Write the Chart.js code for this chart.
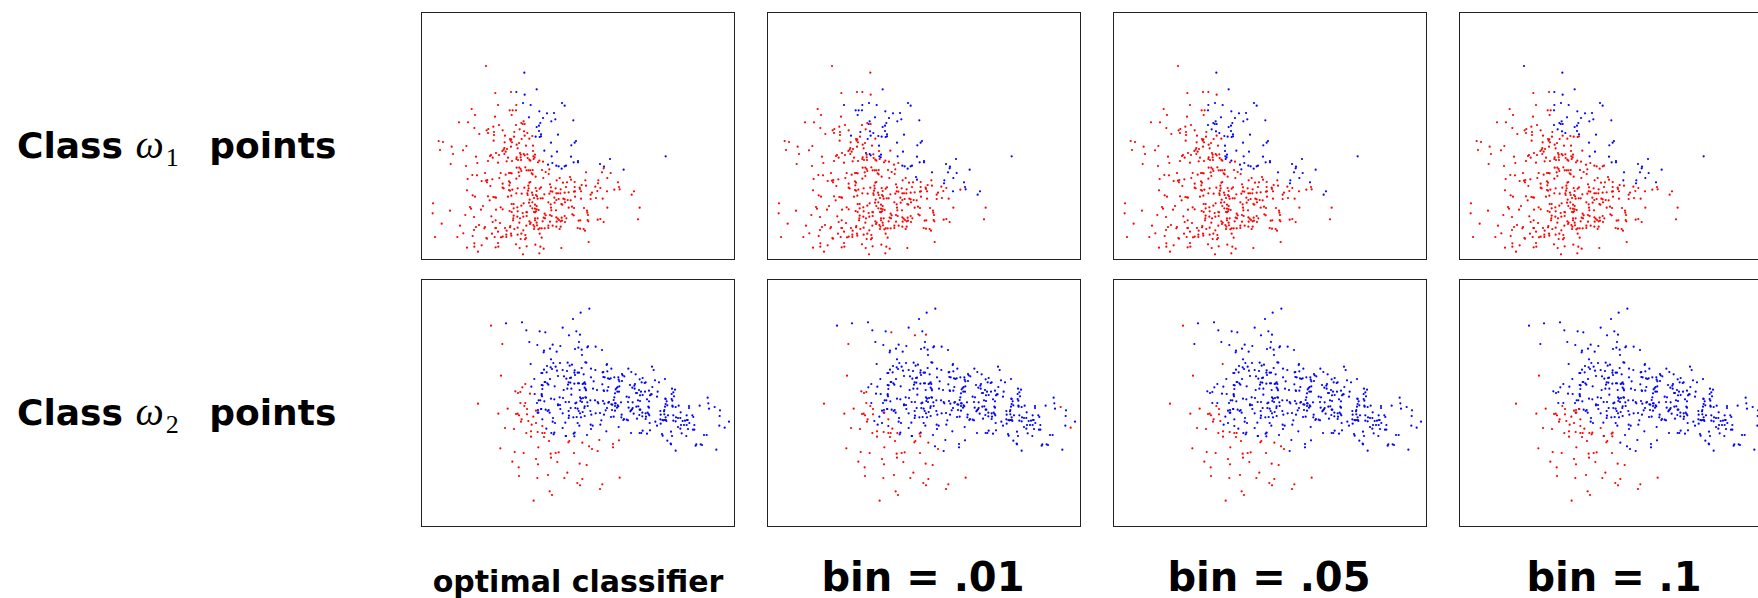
<!DOCTYPE html>
<html>
<head>
<meta charset="utf-8">
<script src="https://cdn.jsdelivr.net/npm/chart.js@4"></script>
<style>
  html, body { margin: 0; background: #fff; overflow: hidden; width: 1758px; height: 598px; }
  canvas { position: absolute; }
  .label { position: absolute; font-family: "DejaVu Sans", sans-serif; font-weight: 700; color: #000; white-space: nowrap; line-height: 1; }
  .row { font-size: 36px; left: 17px; }
  .row i { font-family: "Liberation Serif", serif; font-weight: 400; font-size: 40px; margin: 0 3px 0 0; }
  .row sub { font-family: "Liberation Serif", serif; font-weight: 400; font-size: 26px; line-height: 0; margin-left: -1px; margin-right: 18px; }
  .col { transform: translateX(-50%); }
</style>
</head>
<body>
<script>
const columns = ["optimal classifier", "bin = .01", "bin = .05", "bin = .1"];

// always red in the top row
const topRed = [[256,279],[303,276],[185,327],[195,345],[255,350],[147,367],[174,367],[267,375],[250,380],[193,384],[235,387],[230,391],[278,391],[252,396],[234,399],[252,405],[208,402],[312,410],[358,416],[300,417],[304,418],[302,422],[251,422],[284,427],[306,427],[327,429],[86,423],[99,426],[125,440],[169,438],[348,437],[320,434],[323,445],[303,440],[283,444],[281,449],[291,447],[277,453],[287,455],[90,450],[159,451],[129,462],[258,459],[283,462],[243,465],[240,468],[267,465],[332,464],[352,463],[198,470],[248,473],[294,473],[320,472],[319,477],[324,480],[332,472],[333,480],[353,474],[358,479],[361,482],[234,483],[290,484],[264,488],[306,483],[202,489],[122,492],[168,498],[399,485],[384,487],[320,503],[328,503],[332,507],[346,502],[334,513],[350,511],[356,511],[361,511],[368,510],[396,510],[407,516],[225,519],[272,519],[297,519],[301,519],[287,524],[305,520],[326,517],[416,522],[187,525],[201,526],[365,520],[368,523],[328,528],[377,530],[400,534],[449,534],[173,537],[247,538],[268,534],[232,540],[228,542],[215,543],[231,547],[297,544],[300,548],[319,536],[361,546],[358,548],[440,541],[459,548],[471,547],[494,546],[278,551],[355,557],[241,558],[298,556],[278,563],[281,565],[297,570],[300,572],[307,569],[323,565],[343,563],[356,565],[377,564],[389,566],[393,562],[420,553],[423,562],[437,565],[452,568],[468,561],[494,561],[509,563],[515,555],[510,567],[528,557],[556,560],[571,564],[613,569],[562,573],[171,571],[354,572],[380,573],[352,580],[319,580],[366,578],[422,574],[427,575],[439,580],[444,580],[451,580],[464,578],[476,577],[492,575],[495,574],[513,574],[546,578],[542,584],[578,596],[558,594],[188,586],[195,590],[234,589],[250,591],[255,592],[258,593],[239,601],[304,587],[294,590],[335,581],[353,585],[368,585],[378,585],[381,589],[403,583],[418,581],[392,595],[398,595],[383,596],[372,594],[433,593],[439,600],[446,597],[460,596],[464,598],[473,600],[482,601],[495,590],[513,596],[542,597],[359,599],[357,608],[367,607],[305,612],[311,612],[341,610],[375,614],[380,618],[415,607],[422,613],[434,608],[454,612],[457,614],[465,607],[476,623],[486,620],[492,624],[522,624],[592,623],[689,623],[69,610],[180,621],[183,626],[219,618],[213,629],[258,629],[272,622],[278,628],[311,625],[322,622],[334,617],[361,618],[367,625],[375,626],[380,628],[386,630],[423,623],[424,631],[438,631],[531,632],[120,632],[68,640],[299,633],[305,636],[323,634],[349,636],[338,639],[351,637],[372,636],[378,634],[375,637],[404,641],[407,646],[405,655],[420,645],[464,648],[487,643],[491,646],[532,638],[534,645],[166,645],[244,649],[192,651],[311,647],[310,655],[322,650],[330,655],[340,650],[350,648],[375,655],[383,655],[401,653],[398,664],[425,648],[439,652],[443,656],[447,660],[455,653],[456,662],[469,655],[506,662],[511,661],[533,660],[535,664],[563,659],[571,657],[581,666],[684,658],[257,661],[248,666],[270,669],[309,661],[328,668],[358,664],[362,668],[360,672],[375,661],[380,668],[420,665],[440,665],[452,664],[465,666],[95,671],[150,677],[207,675],[225,681],[223,685],[198,681],[192,690],[256,684],[258,684],[285,684],[301,678],[300,682],[323,683],[313,687],[340,691],[349,677],[370,675],[373,680],[381,676],[415,677],[428,677],[415,684],[395,685],[404,685],[389,685],[385,688],[372,687],[439,680],[452,680],[449,687],[503,684],[510,686],[521,687],[525,692],[290,692],[273,712],[264,695],[246,701],[254,711],[229,714],[231,716],[188,708],[160,700],[142,711],[75,711],[303,701],[304,707],[289,704],[289,711],[278,710],[323,704],[334,701],[346,705],[348,714],[345,718],[332,717],[389,701],[395,713],[536,726],[193,730],[193,740],[171,743],[215,736],[257,742],[265,740],[264,729],[318,733],[329,744],[350,739],[376,734],[391,740],[401,746],[454,744],[204,755],[339,763],[388,760]];

// always blue in the top row
const topBlue = [[380,268],[339,309],[362,315],[456,309],[464,317],[388,334],[411,340],[432,339],[399,354],[357,352],[436,358],[424,364],[490,361],[391,369],[387,377],[380,381],[387,393],[444,404],[393,403],[423,428],[484,436],[494,428],[498,423],[441,455],[425,469],[483,470],[504,483],[504,487],[491,487],[570,492],[582,500],[600,477],[641,509],[767,469]];

// points whose class changes: x, y, then blue (1) or red (0) for each column
const topSwing = [[228,198,0,0,0,1],[343,218,1,0,1,1],[319,276,1,0,0,1],[344,284,1,0,0,1],[264,315,0,1,0,0],[319,315,0,1,1,1],[299,331,0,1,0,0],[308,331,0,1,0,0],[318,331,0,1,1,1],[305,345,0,1,0,0],[341,364,0,1,1,1],[334,369,0,0,1,1],[338,372,0,1,1,1],[344,372,0,0,1,1],[318,375,0,0,1,1],[329,388,0,0,1,1],[342,394,0,1,1,1],[352,399,0,1,1,1],[313,396,0,1,0,0],[285,407,0,1,0,0],[335,417,0,1,0,0],[344,407,0,1,0,0],[367,408,0,1,1,0],[377,410,1,1,1,0],[389,411,1,1,1,0],[393,409,1,1,1,0],[369,437,0,1,1,0],[369,453,0,0,1,0],[330,459,0,1,0,0],[341,462,0,1,0,0],[344,466,0,1,0,0],[375,464,0,1,1,0],[370,469,0,1,1,0],[374,472,0,1,1,0],[371,477,0,0,1,0],[388,482,0,0,1,0],[403,452,1,0,1,0],[427,489,1,0,1,0],[414,494,1,0,1,0],[439,497,1,1,1,0],[446,499,1,1,1,0],[455,506,1,1,1,0],[464,499,1,1,1,0],[468,497,1,1,1,0],[418,508,0,0,1,0],[528,517,0,1,1,1],[576,517,0,1,1,1],[602,519,0,1,1,1],[592,534,0,1,1,1],[565,541,0,1,1,1],[564,550,0,1,1,1],[526,541,0,0,0,1],[480,531,0,1,0,0],[483,539,0,1,0,0],[624,547,0,1,1,1],[591,574,0,1,0,0],[627,561,0,1,0,0],[629,568,0,1,0,0],[672,574,0,1,1,0],[665,584,0,1,1,0],[581,505,0,1,1,1]];

// always red in the bottom row
const bottomRed = [[273,317],[204,401],[343,408],[351,417],[293,416],[265,431],[318,432],[323,431],[327,436],[351,433],[335,448],[333,455],[285,474],[312,477],[349,489],[363,484],[383,486],[397,489],[404,489],[363,500],[402,501],[417,513],[478,513],[475,517],[271,535],[385,532],[314,546],[341,549],[422,551],[437,549],[446,547],[492,549],[423,563],[378,567],[307,575],[442,576],[384,583],[509,581],[530,585],[326,592],[472,608],[414,615],[327,618],[382,624],[463,624],[517,627],[629,623],[502,639],[510,646],[577,643],[570,657],[419,664],[426,675],[371,692]];

// always blue in the bottom row
const bottomBlue = [[538,116],[512,128],[489,147],[288,160],[336,157],[458,173],[349,181],[389,184],[499,184],[358,216],[507,216],[428,224],[382,225],[451,228],[557,230],[532,232],[534,229],[495,237],[505,233],[515,239],[576,240],[420,236],[402,242],[401,247],[440,245],[516,255],[423,268],[430,279],[450,279],[473,278],[479,287],[486,284],[526,277],[529,278],[591,282],[590,285],[411,288],[437,290],[422,292],[426,297],[402,299],[394,309],[397,309],[410,307],[441,302],[458,300],[471,303],[494,301],[515,294],[543,296],[556,300],[578,307],[580,306],[592,304],[604,296],[655,296],[664,306],[726,290],[731,300],[493,308],[503,308],[507,308],[373,327],[420,327],[444,318],[462,319],[469,326],[480,324],[483,323],[495,315],[521,313],[543,322],[580,321],[584,322],[594,325],[598,327],[602,325],[613,322],[625,322],[636,312],[638,316],[643,319],[677,313],[698,324],[689,328],[765,327],[735,331],[747,337],[404,336],[406,336],[412,340],[415,344],[398,346],[395,345],[364,350],[434,349],[476,337],[474,344],[481,338],[493,341],[504,340],[507,340],[521,340],[524,337],[526,342],[518,342],[551,334],[577,343],[626,329],[628,334],[636,333],[660,345],[675,342],[673,347],[695,337],[704,339],[707,337],[727,351],[786,356],[795,359],[472,356],[484,356],[461,360],[397,357],[509,360],[524,353],[527,357],[528,361],[549,356],[561,360],[581,361],[582,363],[592,362],[595,351],[617,358],[620,354],[623,351],[628,349],[627,365],[622,365],[615,370],[667,353],[674,356],[678,369],[681,369],[687,360],[705,365],[698,375],[693,365],[717,362],[743,365],[790,367],[785,372],[767,387],[766,386],[785,387],[792,379],[787,392],[374,372],[395,372],[396,379],[395,375],[484,374],[423,386],[433,388],[449,382],[459,384],[510,382],[519,384],[513,386],[528,383],[526,382],[541,391],[555,391],[563,396],[565,400],[579,393],[595,398],[597,396],[613,382],[611,390],[615,400],[650,380],[657,382],[654,396],[668,397],[690,393],[684,391],[690,376],[723,373],[725,373],[720,376],[711,388],[717,394],[741,380],[770,394],[767,402],[381,399],[391,391],[403,394],[386,391],[444,403],[444,406],[467,396],[477,396],[496,400],[499,398],[511,393],[516,396],[532,397],[583,401],[604,403],[617,400],[623,406],[615,408],[625,409],[633,397],[668,414],[685,409],[679,410],[691,419],[689,419],[715,410],[717,413],[751,423],[763,420],[765,410],[772,406],[787,407],[788,410],[797,411],[806,407],[837,408],[837,414],[869,407],[895,400],[893,383],[897,416],[930,421],[383,428],[393,417],[407,419],[416,420],[413,423],[419,428],[451,417],[450,405],[458,430],[476,423],[482,414],[496,414],[503,416],[506,423],[510,430],[518,426],[524,409],[523,414],[533,408],[541,423],[544,434],[557,430],[570,429],[587,421],[591,414],[606,420],[607,404],[621,413],[615,422],[635,434],[656,413],[661,424],[666,418],[671,431],[663,421],[688,435],[697,428],[707,430],[713,428],[716,432],[708,440],[718,436],[752,434],[762,424],[763,433],[767,442],[768,450],[774,436],[790,436],[812,427],[798,442],[804,444],[811,444],[830,436],[831,450],[847,436],[850,441],[429,444],[477,437],[476,444],[490,442],[500,441],[513,442],[524,438],[582,434],[603,441],[611,440],[634,442],[642,447],[640,450],[650,449],[654,451],[681,446],[697,439],[707,447],[764,450],[760,451],[769,453],[757,450],[751,448],[790,452],[797,454],[818,453],[825,452],[833,450],[838,459],[830,465],[853,465],[813,465],[853,479],[834,477],[849,479],[928,467],[929,438],[957,455],[428,455],[435,459],[466,458],[503,459],[508,467],[542,464],[548,467],[571,464],[574,451],[719,459],[736,455],[741,467],[822,465],[752,461],[543,477],[626,471],[589,484],[467,498],[531,495],[663,489],[689,489],[694,489],[711,491],[698,482],[720,481],[756,492],[758,497],[783,485],[811,476],[815,490],[786,498],[804,471],[882,495],[890,495],[829,498],[772,512],[782,521],[783,523],[797,542],[857,527],[859,523],[872,523],[876,525],[919,539]];

const bottomSwing = [[243,167,0,1,0,1],[277,222,0,0,1,1],[362,282,1,1,0,1],[346,342,0,1,1,1],[337,352,0,1,1,1],[316,364,0,0,1,1],[324,369,0,0,1,1],[331,366,0,0,1,1],[360,371,0,1,1,1],[331,399,0,0,1,1],[346,399,0,1,1,1],[378,422,0,1,1,0],[385,428,1,0,1,0],[394,417,1,1,1,0],[384,420,1,1,1,0],[370,440,0,1,1,0],[397,448,1,0,1,0],[355,453,0,1,0,0],[378,459,0,1,1,0],[365,464,0,1,1,0],[397,468,0,1,1,0],[409,476,1,0,1,0],[424,489,1,0,1,0],[433,488,1,1,1,0],[431,493,1,1,1,0],[458,474,1,1,1,0],[468,498,1,1,1,0],[491,491,1,0,1,0],[494,488,1,1,1,0],[493,499,1,0,1,0],[537,529,0,1,0,1],[546,537,0,0,0,1],[563,543,0,1,1,1],[568,510,0,1,1,1],[627,511,0,1,1,1],[609,522,0,1,1,1],[609,532,0,1,1,1],[517,518,0,0,0,1],[406,187,1,0,1,1],[477,196,1,0,1,1],[510,194,1,0,1,1],[914,411,1,0,1,1],[944,473,1,0,1,1]];

const toXY = p => ({ x: p[0], y: p[1] });

const framePlugin = {
  id: "frame",
  afterDraw(chart) {
    const { ctx, chartArea: a } = chart;
    ctx.save();
    ctx.strokeStyle = "#222";
    ctx.lineWidth = 1;
    ctx.strokeRect(a.left + 0.5, a.top + 0.5, a.right - a.left - 1, a.bottom - a.top - 1);
    ctx.restore();
  }
};

function panel(left, top, red, blue, swing, col, yMin, yMax) {
  const canvas = document.createElement("canvas");
  canvas.width = 314;
  canvas.height = 248;
  canvas.style.left = left + "px";
  canvas.style.top = top + "px";
  document.body.appendChild(canvas);

  const swingRed = swing.filter(p => !p[col + 2]);
  const swingBlue = swing.filter(p => p[col + 2]);

  new Chart(canvas, {
    type: "scatter",
    data: {
      datasets: [
        { data: red.concat(swingRed).map(toXY), backgroundColor: "#ff0000", pointRadius: 1.1, pointBorderWidth: 0 },
        { data: blue.concat(swingBlue).map(toXY), backgroundColor: "#0000ff", pointRadius: 1.1, pointBorderWidth: 0 }
      ]
    },
    options: {
      responsive: false,
      animation: false,
      layout: { padding: 0, autoPadding: false },
      plugins: { legend: { display: false }, tooltip: { enabled: false } },
      scales: {
        x: { display: false, min: 33, max: 975 },
        y: { display: false, min: yMin, max: yMax, reverse: true }
      }
    },
    plugins: [framePlugin]
  });
}

const lefts = [421, 767, 1113, 1459];
lefts.forEach((left, col) => {
  panel(left, 12, topRed, topBlue, topSwing, col, 36, 780);
  panel(left, 279, bottomRed, bottomBlue, bottomSwing, col, 27, 771);
});

function addLabel(html, cls, x, y, size) {
  const d = document.createElement("div");
  d.className = "label " + cls;
  d.innerHTML = html;
  d.style.top = y + "px";
  if (x !== null) d.style.left = x + "px";
  if (size) d.style.fontSize = size + "px";
  document.body.appendChild(d);
}

addLabel("Class <i>ω</i><sub>1</sub> points", "row", null, 125);
addLabel("Class <i>ω</i><sub>2</sub> points", "row", null, 392);

const colCenters = [578, 923, 1269, 1614];
const colSizes = [30, 40, 40, 40];
const colTops = [567, 557, 557, 557];
columns.forEach((text, i) => addLabel(text, "col", colCenters[i], colTops[i], colSizes[i]));
</script>
</body>
</html>
